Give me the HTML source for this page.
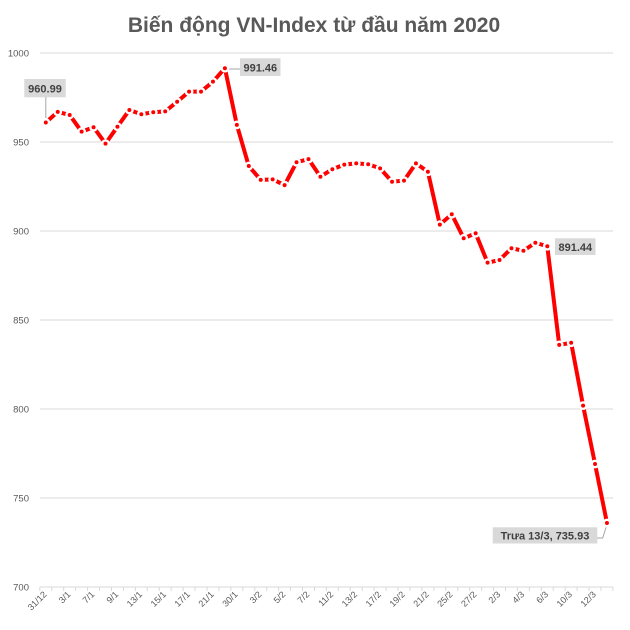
<!DOCTYPE html>
<html>
<head>
<meta charset="utf-8">
<style>
  html, body { margin: 0; padding: 0; background: #ffffff; }
  svg { display: block; }
  text { font-family: "Liberation Sans", Arial, sans-serif; }
</style>
</head>
<body>
<svg width="630" height="630" viewBox="0 0 630 630" xmlns="http://www.w3.org/2000/svg">
  <defs>
    <marker id="m" markerWidth="12" markerHeight="12" refX="6" refY="6" viewBox="0 0 12 12" markerUnits="userSpaceOnUse">
      <circle cx="6" cy="6" r="4.4" fill="#ffffff"/>
      <circle cx="6" cy="6" r="2" fill="#ff0000"/>
    </marker>
  </defs>
  <rect x="0" y="0" width="630" height="630" fill="#ffffff"/>

  <!-- Title -->
  <text x="314" y="32" text-anchor="middle" font-size="21" font-weight="bold" fill="#595959">Biến động VN-Index từ đầu năm 2020</text>

  <!-- Gridlines -->
  <g stroke="#d9d9d9" stroke-width="1">
    <line x1="39.8" y1="53" x2="613" y2="53"/>
    <line x1="39.8" y1="142" x2="613" y2="142"/>
    <line x1="39.8" y1="231" x2="613" y2="231"/>
    <line x1="39.8" y1="320" x2="613" y2="320"/>
    <line x1="39.8" y1="409" x2="613" y2="409"/>
    <line x1="39.8" y1="498" x2="613" y2="498"/>
    <line x1="39.8" y1="587" x2="613" y2="587"/>
  </g>
  <!-- Tick marks -->
  <path stroke="#d9d9d9" stroke-width="1" fill="none" d="M39.83 587v4M51.77 587v4M63.71 587v4M75.65 587v4M87.59 587v4M99.53 587v4M111.47 587v4M123.41 587v4M135.35 587v4M147.29 587v4M159.23 587v4M171.17 587v4M183.11 587v4M195.05 587v4M206.99 587v4M218.93 587v4M230.87 587v4M242.81 587v4M254.75 587v4M266.69 587v4M278.63 587v4M290.57 587v4M302.51 587v4M314.45 587v4M326.39 587v4M338.33 587v4M350.27 587v4M362.21 587v4M374.15 587v4M386.09 587v4M398.03 587v4M409.97 587v4M421.91 587v4M433.85 587v4M445.79 587v4M457.73 587v4M469.67 587v4M481.61 587v4M493.55 587v4M505.49 587v4M517.43 587v4M529.37 587v4M541.31 587v4M553.25 587v4M565.19 587v4M577.13 587v4M589.07 587v4M601.01 587v4M612.95 587v4"/>

  <!-- Y labels -->
  <g font-size="9.5" fill="#595959" text-anchor="end">
    <text x="29" y="56.5">1000</text>
    <text x="29" y="145.5">950</text>
    <text x="29" y="234.5">900</text>
    <text x="29" y="323.5">850</text>
    <text x="29" y="412.5">800</text>
    <text x="29" y="501.5">750</text>
    <text x="29" y="590.5">700</text>
  </g>

  <!-- X labels -->
  <g font-size="9" fill="#595959" text-anchor="end">
    <text transform="translate(47.3,595) rotate(-45)">31/12</text>
    <text transform="translate(71.18,595) rotate(-45)">3/1</text>
    <text transform="translate(95.06,595) rotate(-45)">7/1</text>
    <text transform="translate(118.94,595) rotate(-45)">9/1</text>
    <text transform="translate(142.82,595) rotate(-45)">13/1</text>
    <text transform="translate(166.7,595) rotate(-45)">15/1</text>
    <text transform="translate(190.58,595) rotate(-45)">17/1</text>
    <text transform="translate(214.46,595) rotate(-45)">21/1</text>
    <text transform="translate(238.34,595) rotate(-45)">30/1</text>
    <text transform="translate(262.22,595) rotate(-45)">3/2</text>
    <text transform="translate(286.1,595) rotate(-45)">5/2</text>
    <text transform="translate(309.98,595) rotate(-45)">7/2</text>
    <text transform="translate(333.86,595) rotate(-45)">11/2</text>
    <text transform="translate(357.74,595) rotate(-45)">13/2</text>
    <text transform="translate(381.62,595) rotate(-45)">17/2</text>
    <text transform="translate(405.5,595) rotate(-45)">19/2</text>
    <text transform="translate(429.38,595) rotate(-45)">21/2</text>
    <text transform="translate(453.26,595) rotate(-45)">25/2</text>
    <text transform="translate(477.14,595) rotate(-45)">27/2</text>
    <text transform="translate(501.02,595) rotate(-45)">2/3</text>
    <text transform="translate(524.9,595) rotate(-45)">4/3</text>
    <text transform="translate(548.78,595) rotate(-45)">6/3</text>
    <text transform="translate(572.66,595) rotate(-45)">10/3</text>
    <text transform="translate(596.54,595) rotate(-45)">12/3</text>
  </g>

  <!-- Leader lines -->
  <g stroke="#a6a6a6" stroke-width="1" fill="none">
    <line x1="45.8" y1="97" x2="45.8" y2="119"/>
    <line x1="227" y1="69" x2="240" y2="69"/>
    <polyline points="597,538 602.7,538 606.5,526"/>
  </g>

  <!-- Series -->
  <polyline fill="none" stroke="#ff0000" stroke-width="4" stroke-linejoin="miter"
    marker-start="url(#m)" marker-mid="url(#m)" marker-end="url(#m)"
    points="45.8,122.44 57.74,111.92 69.68,114.94 81.62,131.68 93.56,127.23 105.5,143.6 117.44,126.69 129.38,109.96 141.32,114.23 153.26,112.27 165.2,111.38 177.14,101.77 189.08,91.63 201.02,91.63 212.96,81.66 224.9,68.2 236.84,124.91 248.78,166.03 260.72,179.91 272.66,179.38 284.6,185.08 296.54,162.29 308.48,159.09 320.42,176.71 332.36,169.23 344.3,164.61 356.24,163.36 368.18,164.25 380.12,168.34 392.06,181.69 404,180.63 415.94,163.36 427.88,171.73 439.82,224.59 451.76,214.27 463.7,238.3 475.64,233.31 487.58,262.68 499.52,260.01 511.46,248.27 523.4,250.76 535.34,242.75 547.28,246.24 559.22,344.92 571.16,342.78 583.1,405.62 595.04,464 606.98,523.04"/>

  <!-- Data labels -->
  <g font-size="11" font-weight="bold" fill="#404040" text-anchor="middle">
    <rect x="24.3" y="79" width="41.4" height="18.3" fill="#d9d9d9"/>
    <text x="45" y="92.5">960.99</text>
    <rect x="240" y="58.3" width="40.5" height="17.7" fill="#d9d9d9"/>
    <text x="260.3" y="71.3">991.46</text>
    <rect x="555" y="238.3" width="40.5" height="16.7" fill="#d9d9d9"/>
    <text x="575.3" y="250.9">891.44</text>
    <rect x="492.7" y="527.3" width="104.6" height="16.2" fill="#d9d9d9"/>
    <text x="545" y="539.5">Trưa 13/3, 735.93</text>
  </g>
</svg>
</body>
</html>
